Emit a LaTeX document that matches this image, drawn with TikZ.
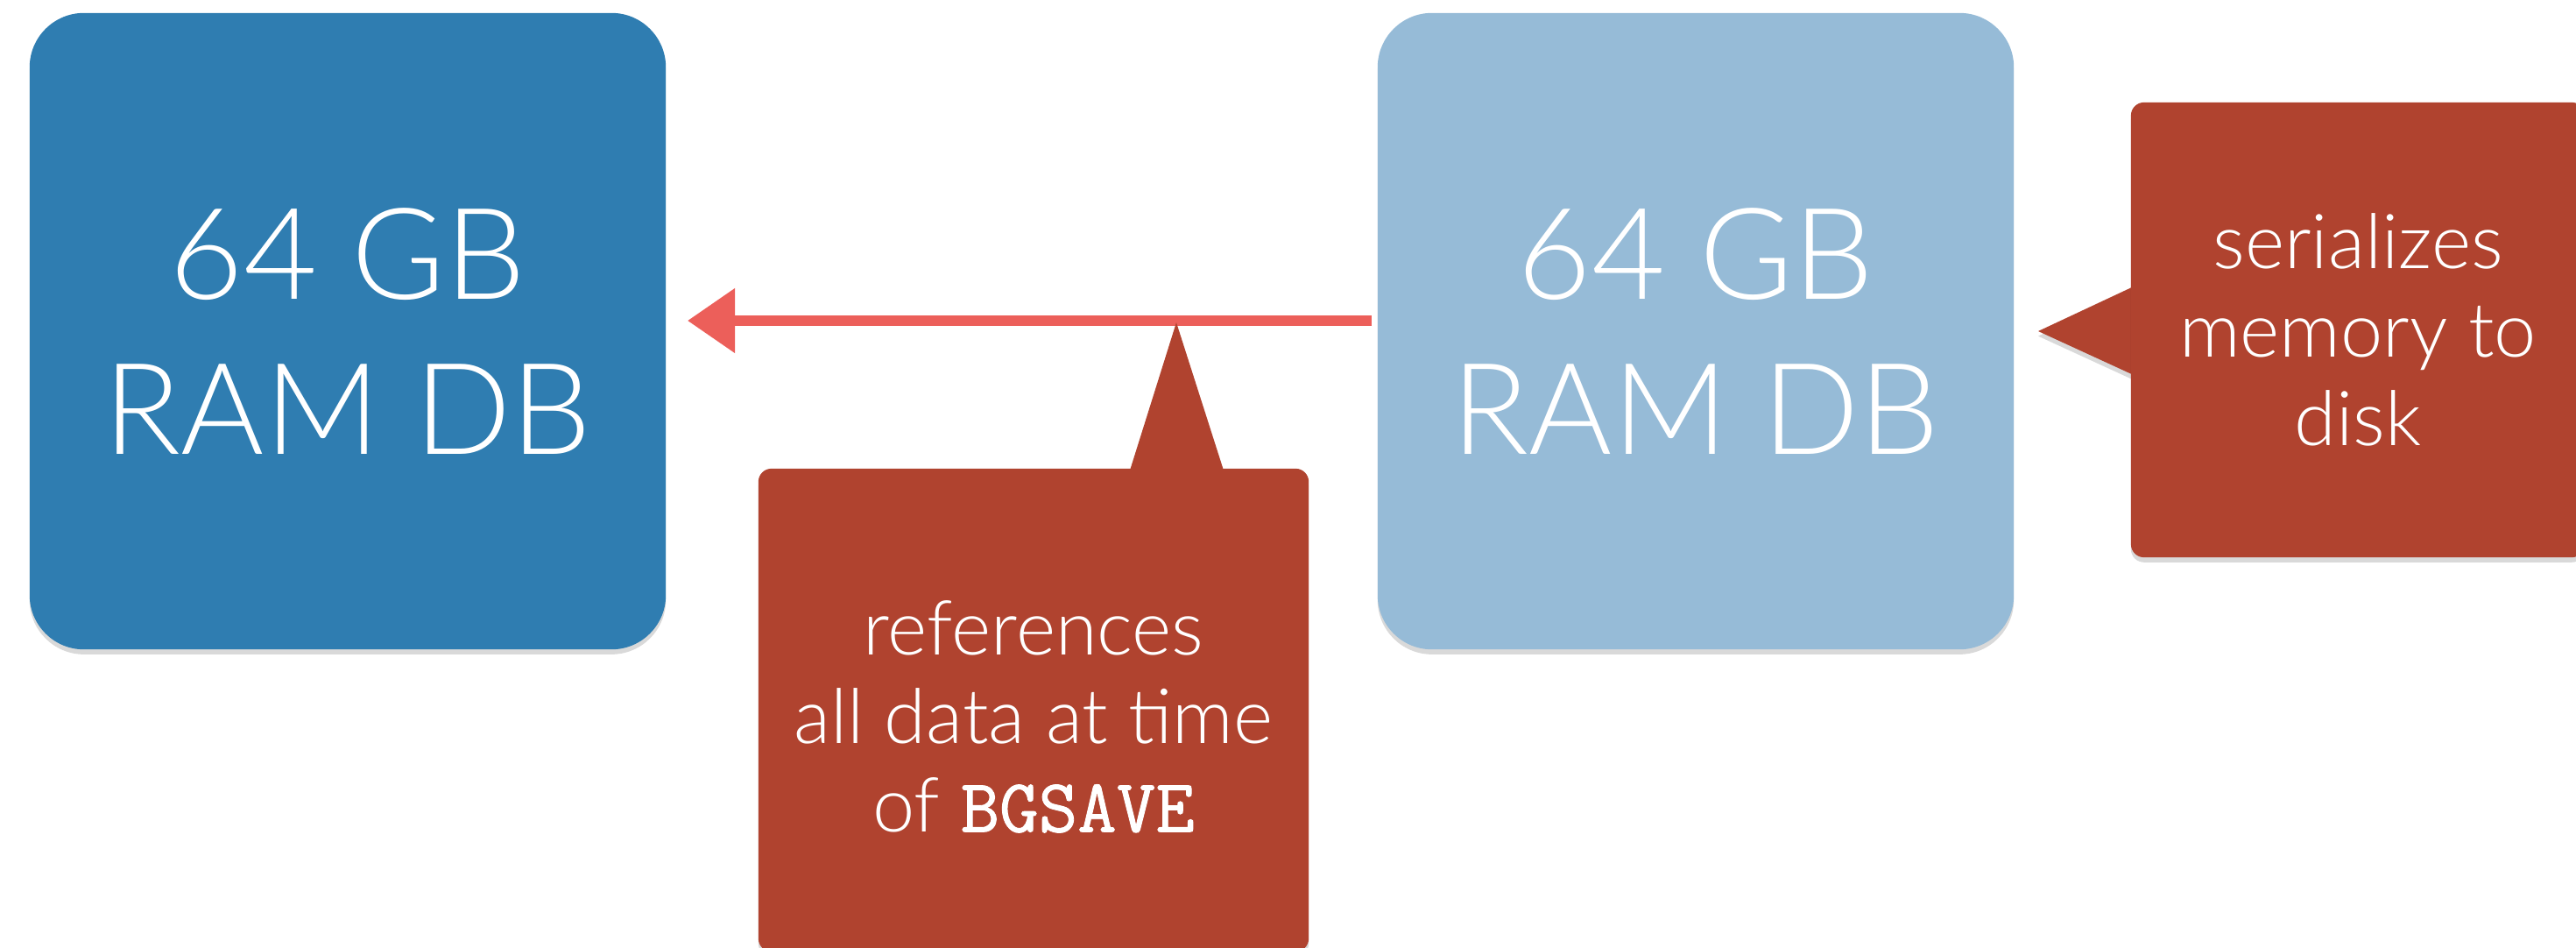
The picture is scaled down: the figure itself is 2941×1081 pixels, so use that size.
\documentclass[tikz,border=0pt]{standalone}
\usepackage{fontspec}
\IfFontExistsTF{Lato Light}{\setmainfont{Lato Light}}{\setmainfont{TeX Gyre Heros}}
\newfontfamily\codefont{Latin Modern Mono}[FakeBold=1.0]
\usetikzlibrary{arrows.meta,shadows}
\definecolor{darkblue}{HTML}{2F7DB1}
\definecolor{lightblue}{HTML}{96BBD7}
\definecolor{calloutred}{HTML}{B0432F}
\definecolor{arrowred}{HTML}{EC5F5A}
\begin{document}
\begin{tikzpicture}[x=0.01cm,y=-0.01cm,
  softshadow/.style={drop shadow={shadow xshift=0pt,shadow yshift=-1.6pt,opacity=0.15,fill=black}},
  dbbox/.style={rounded corners=0.62cm,minimum width=7.26cm,minimum height=7.26cm,
    inner sep=0pt,text=white,align=center,font=\fontsize{41.3}{50.4}\selectfont,softshadow},
  calloutbody/.style={fill=calloutred,rounded corners=0.15cm,inner sep=0pt,
    text=white,align=center,font=\fontsize{24.6}{28.7}\selectfont,softshadow},
  callouttext/.style={text=white,align=center,inner sep=0pt,font=\fontsize{24.6}{28.7}\selectfont},
  pointer/.style={fill=calloutred,softshadow},
  arrowline/.style={draw=arrowred,line width=3.3pt,
    -{Triangle[length=15.4pt,width=20.2pt]}}]
\useasboundingbox (0,0) rectangle (2941,1081);
\clip (0,0) rectangle (2941,1081);

% database boxes
\node[dbbox,fill=darkblue] (lbox) at (397,378) {64 GB\\RAM DB};
\node[dbbox,fill=lightblue] (rbox) at (1936,378) {64 GB\\RAM DB};

% arrow
\draw[arrowline,shorten <=0.06cm,shorten >=0.24cm]
  ([yshift=0.12cm]rbox.west) -- ([yshift=0.12cm]lbox.east);

% middle callout
\coordinate (p1) at (1343,368);
\path[pointer] (1289,540) -- (p1) -- (1398,540) -- cycle;
\node[calloutbody,minimum width=6.28cm,minimum height=5.51cm] (cb) at (1180,810.5) {};
\node[callouttext] (ct) at (1180,818) {references\\all data at time\\of {\codefont BGSAVE}};

% right callout
\coordinate (p2) at (2327,378);
\path[pointer] (2438,326) -- (p2) -- (2438,429) -- cycle;
\node[calloutbody,minimum width=5.18cm,minimum height=5.19cm] (rc) at (2692,376.5)
  {serializes\\memory to\\disk};
\end{tikzpicture}
\end{document}
